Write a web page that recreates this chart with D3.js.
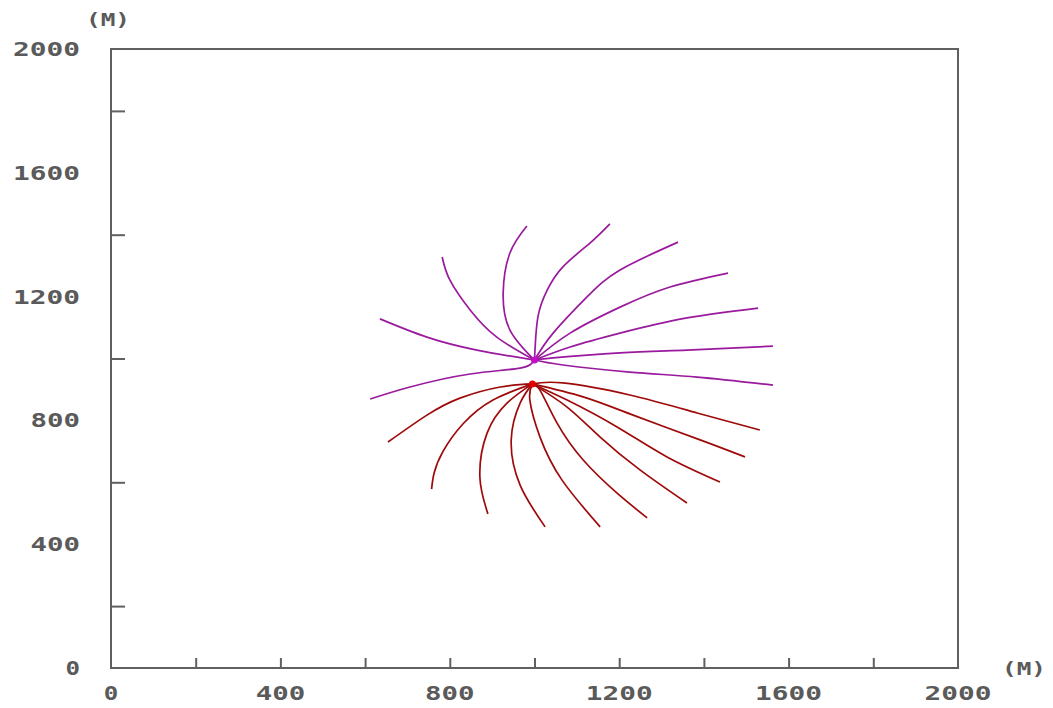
<!DOCTYPE html>
<html><head><meta charset="utf-8">
<script src="https://cdn.jsdelivr.net/npm/d3@7"></script>
<style>
html,body{margin:0;padding:0;background:#fff;}
svg{display:block;}
text{font-family:"DejaVu Sans Mono",monospace;font-weight:bold;fill:#5a5a5a;}
</style></head>
<body>
<script>
// ---- data (metres) ----
const xTickValues = [200,400,600,800,1000,1200,1400,1600,1800];
const xLabelValues = [0,400,800,1200,1600,2000];
const yTickValues = [200,600,1000,1400,1800];
const yLabelValues = [0,400,800,1200,1600,2000];
const unitLabel = "(M)";

const purpleCenter = [1000,995];
const redCenter = [995,918];

const purpleCurves = [
  [[1000,995],[864,1027],[746,1069],[635,1128]],
  [[1000,995],[911,1069],[848,1157],[800,1254],[782,1328]],
  [[1000,995],[942,1092],[926,1212],[942,1341],[982,1428]],
  [[1000,995],[1008,1134],[1030,1221],[1067,1296],[1131,1373],[1178,1435]],
  [[1000,995],[1044,1082],[1124,1199],[1202,1286],[1339,1376]],
  [[1000,995],[1084,1082],[1202,1166],[1320,1231],[1457,1276]],
  [[1000,995],[1084,1037],[1202,1082],[1360,1131],[1528,1163]],
  [[1000,995],[1044,1002],[1202,1018],[1360,1027],[1563,1040]],
  [[1000,995],[1067,979],[1225,956],[1384,940],[1563,914]],
  [[1000,995],[966,969],[848,950],[706,908],[612,869]]
];

const redCurves = [
  [[995,918],[919,908],[824,872],[746,817],[654,730]],
  [[995,918],[902,866],[832,790],[784,700],[763,630],[757,578]],
  [[995,918],[935,856],[888,759],[871,617],[890,498]],
  [[995,918],[966,856],[945,737],[966,591],[1025,456]],
  [[995,918],[989,866],[1013,746],[1065,607],[1155,456]],
  [[995,918],[1013,898],[1053,792],[1115,672],[1195,565],[1266,485]],
  [[995,918],[1077,843],[1155,746],[1249,640],[1360,533]],
  [[995,918],[1077,866],[1195,779],[1313,682],[1438,601]],
  [[995,918],[1115,876],[1233,817],[1391,737],[1497,682]],
  [[995,918],[1067,921],[1225,882],[1384,824],[1532,769]]
];

// ---- drawing ----
const W = 1053, H = 708;
const L = 111, R = 958, T = 49, B = 668;
const svg = d3.select("body").append("svg").attr("width", W).attr("height", H);

const x = d3.scaleLinear().domain([0,2000]).range([L,R]);
const y = d3.scaleLinear().domain([0,2000]).range([B,T]);

const axisColor = "#606060";

svg.append("rect").attr("x",L).attr("y",T).attr("width",R-L).attr("height",B-T)
  .attr("fill","none").attr("stroke",axisColor).attr("stroke-width",2);

const xAxis = d3.axisTop(x).tickValues(xTickValues).tickSize(10).tickFormat("");
const gx = svg.append("g").attr("transform",`translate(0,${B})`).call(xAxis);
gx.select(".domain").remove();
gx.selectAll("line").attr("stroke",axisColor).attr("stroke-width",2);

const yAxis = d3.axisRight(y).tickValues(yTickValues).tickSize(14).tickFormat("");
const gy = svg.append("g").attr("transform",`translate(${L},0)`).call(yAxis);
gy.select(".domain").remove();
gy.selectAll("line").attr("stroke",axisColor).attr("stroke-width",2);

const charW = 17.5;
function lenOf(s){ return s.length*charW - 3; }

svg.append("g").selectAll("text").data(xLabelValues).join("text")
  .attr("x", d => x(d)).attr("y", 700)
  .attr("text-anchor","middle").attr("font-size",20)
  .attr("textLength", d => lenOf(String(d))).attr("lengthAdjust","spacingAndGlyphs")
  .text(d => String(d));

svg.append("g").selectAll("text").data(yLabelValues).join("text")
  .attr("x", 80).attr("y", d => y(d) + 7)
  .attr("text-anchor","end").attr("font-size",20)
  .attr("textLength", d => lenOf(String(d))).attr("lengthAdjust","spacingAndGlyphs")
  .text(d => String(d));

svg.append("text").attr("x",108).attr("y",26).attr("text-anchor","middle")
  .attr("font-size",18).attr("textLength",44).attr("lengthAdjust","spacingAndGlyphs").text(unitLabel);
svg.append("text").attr("x",1024).attr("y",675).attr("text-anchor","middle")
  .attr("font-size",18).attr("textLength",44).attr("lengthAdjust","spacingAndGlyphs").text(unitLabel);

const line = d3.line().x(d => x(d[0])).y(d => y(d[1])).curve(d3.curveNatural);

svg.append("g").selectAll("path").data(purpleCurves).join("path")
  .attr("d", line).attr("fill","none").attr("stroke","#9a1a9e").attr("stroke-width",1.7);
svg.append("g").selectAll("path").data(redCurves).join("path")
  .attr("d", line).attr("fill","none").attr("stroke","#9e0a0a").attr("stroke-width",1.7);

svg.append("circle").attr("cx",x(purpleCenter[0])).attr("cy",y(purpleCenter[1])).attr("r",3.5).attr("fill","#c010c8");
svg.append("circle").attr("cx",x(redCenter[0])).attr("cy",y(redCenter[1])).attr("r",3.5).attr("fill","#e00000");
</script>
</body></html>
